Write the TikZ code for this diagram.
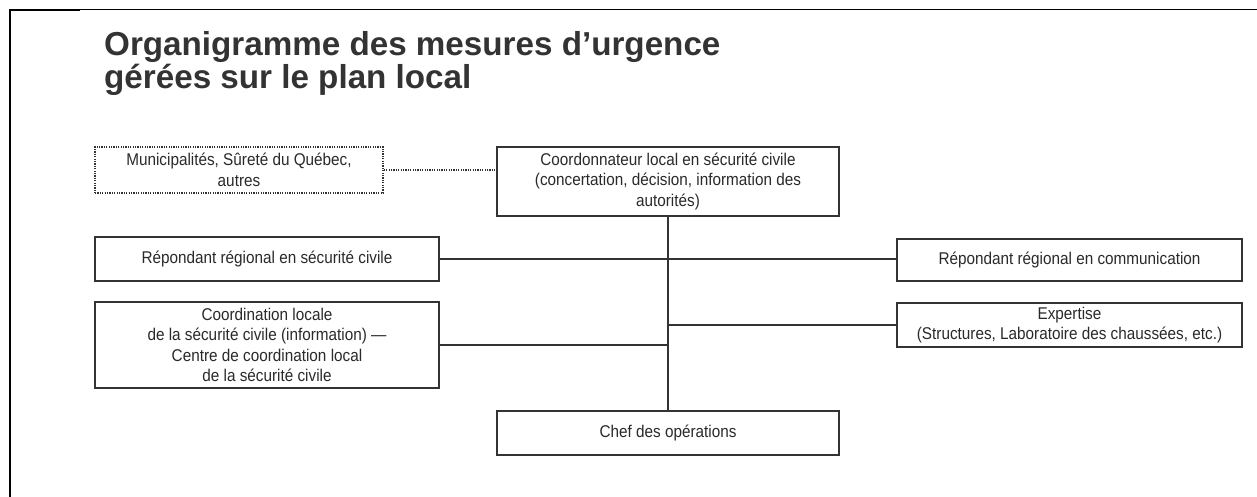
\documentclass[tikz,border=0pt]{standalone}
\usepackage{fontspec}
\setmainfont{Liberation Sans}
\newfontfamily\boxfont[FakeStretch=0.9]{Liberation Sans}
\definecolor{ink}{HTML}{333333}
\definecolor{txt}{HTML}{2A2A2A}
\begin{document}
\begin{tikzpicture}[x=1pt,y=-1pt,
  box/.style={draw=ink, line width=1.4pt, text=txt, align=center,
    font=\boxfont\fontsize{17}{20.5}\selectfont, inner sep=0pt, anchor=center},
  dotbox/.style={box, dash pattern=on 1.2pt off 1.2pt},
  link/.style={draw=ink, line width=1.3pt},
  dotlink/.style={link, dash pattern=on 1.2pt off 1.2pt},
  ttl/.style={anchor=base west, inner sep=0pt, text=ink,
    font=\fontsize{33.2}{36}\selectfont\bfseries}]
\useasboundingbox (0,0) rectangle (1257,497);
\fill[white] (0,0) rectangle (1257,497);
% frame
\draw[black, line width=1pt] (10,9.5) -- (1257,9.5);
\draw[black, line width=2.2pt] (10,10) -- (10,497);
\draw[black, line width=2.2pt] (9,10) -- (80,10);
% title
\node[ttl] (t1) at (104,56) {Organigramme des mesures d’urgence};
\node[ttl] (t2) at (104,89) {gérées sur le plan local};
% boxes
\node[dotbox, minimum width=288pt, minimum height=46pt] (mun) at (239,170)
  {Municipalités, Sûreté du Québec,\\autres};
\node[box, minimum width=342pt, minimum height=69pt] (coord) at (668,181.5)
  {Coordonnateur local en sécurité civile\\(concertation, décision, information des\\autorités)};
\node[box, minimum width=344pt, minimum height=44pt] (rs) at (267,259)
  {Répondant régional en sécurité civile};
\node[box, minimum width=345pt, minimum height=42pt] (rc) at (1069.5,260)
  {Répondant régional en communication};
\node[box, minimum width=344pt, minimum height=86pt] (cl) at (267,345)
  {Coordination locale\\de la sécurité civile (information) —\\Centre de coordination local\\de la sécurité civile};
\node[box, minimum width=345pt, minimum height=44pt] (ex) at (1069.5,325)
  {Expertise\\(Structures, Laboratoire des chaussées, etc.)};
\node[box, minimum width=342pt, minimum height=44pt] (chef) at (668,433)
  {Chef des opérations};
% connectors
\draw[dotlink] (mun.east) -- (mun.east -| coord.west);
\draw[link] (coord.south) -- (chef.north);
\draw[link] (rs.east) -- (rs.east -| rc.west);
\draw[link] (cl.east) -- (cl.east -| coord.south);
\draw[link] (ex.west) -- (ex.west -| coord.south);
\end{tikzpicture}
\end{document}
